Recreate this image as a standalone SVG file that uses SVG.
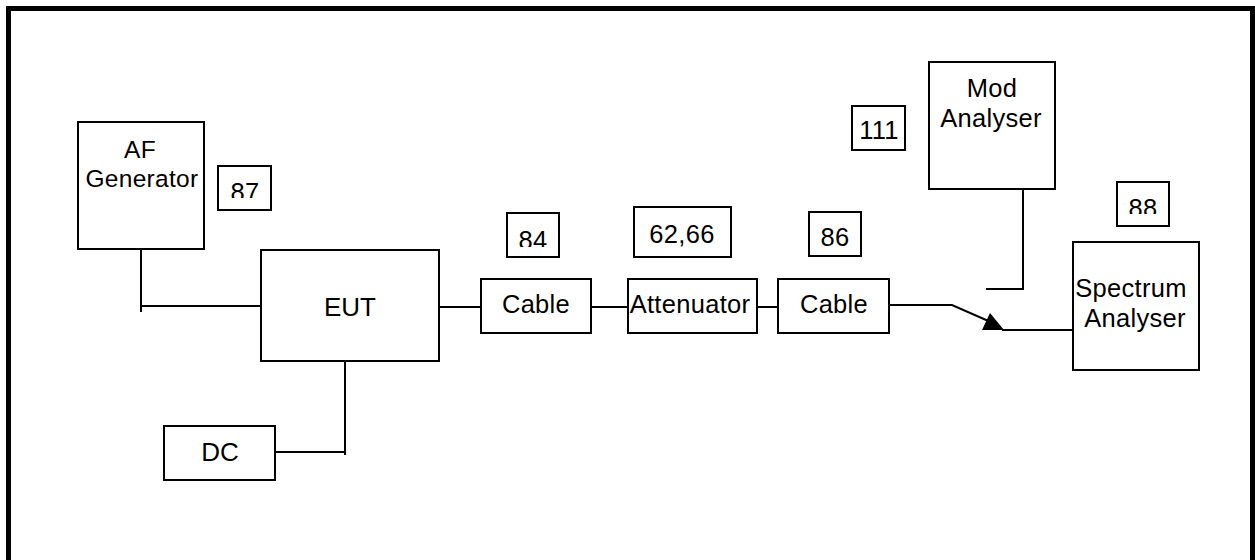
<svg xmlns="http://www.w3.org/2000/svg" width="1255" height="560" viewBox="0 0 1255 560">
<style>
.box{fill:#fff;stroke:#000;stroke-width:2}
.ln{fill:none;stroke:#000;stroke-width:2}
.t{font-family:"Liberation Sans",Arial,sans-serif;font-size:25.5px;letter-spacing:0.3px;fill:#000;text-anchor:middle}
</style>
<defs>
<clipPath id="c87"><rect x="218" y="166" width="53" height="32"/></clipPath>
<clipPath id="c84"><rect x="507" y="213" width="52" height="34"/></clipPath>
<clipPath id="c88"><rect x="1117" y="182" width="52" height="32"/></clipPath>
</defs>
<rect x="0" y="0" width="1255" height="560" fill="#fff"/>
<rect x="8.5" y="8.5" width="1244" height="620" fill="none" stroke="#000" stroke-width="5"/>
<g id="connectors">
<polyline class="ln" points="141,249 141,312"/>
<polyline class="ln" points="141,306 261,306"/>
<polyline class="ln" points="439,307 481,307"/>
<polyline class="ln" points="591,307 628,307"/>
<polyline class="ln" points="757,307 778,307"/>
<polyline class="ln" points="345,361 345,455"/>
<polyline class="ln" points="275,452 345,452"/>
<polyline class="ln" points="889,305 952,305 993,323"/>
<polygon points="990,313 982,330 1004,330" fill="#000"/>
<polyline class="ln" points="1002,330 1077,330"/>
<polyline class="ln" points="1023,189 1023,289 986,289"/>
</g>
<g id="af-generator"><rect class="box" x="78" y="122" width="126" height="127"/><text class="t" x="140" y="158" style="font-size:24.5px">AF</text><text class="t" x="142" y="187" style="font-size:24.5px">Generator</text></g>
<g id="label-87"><rect class="box" x="218" y="166" width="53" height="44"/><text class="t" x="245" y="201" clip-path="url(#c87)">87</text></g>
<g id="eut"><rect class="box" x="261" y="250" width="178" height="111"/><text class="t" x="350" y="316" style="font-size:26px;letter-spacing:0">EUT</text></g>
<g id="dc"><rect class="box" x="164" y="426" width="111" height="54"/><text class="t" x="220" y="461" style="font-size:26px;letter-spacing:0">DC</text></g>
<g id="cable1"><rect class="box" x="481" y="279" width="110" height="54"/><text class="t" x="536" y="313">Cable</text></g>
<g id="label-84"><rect class="box" x="507" y="213" width="52" height="44"/><text class="t" x="533" y="249" clip-path="url(#c84)">84</text></g>
<g id="attenuator"><rect class="box" x="628" y="279" width="129" height="54"/><text class="t" x="690" y="313">Attenuator</text></g>
<g id="label-6266"><rect class="box" x="634" y="207" width="97" height="50"/><text class="t" x="682" y="243">62,66</text></g>
<g id="cable2"><rect class="box" x="778" y="279" width="111" height="54"/><text class="t" x="834" y="313">Cable</text></g>
<g id="label-86"><rect class="box" x="809" y="212" width="52" height="44"/><text class="t" x="835" y="246">86</text></g>
<g id="label-111"><rect class="box" x="852" y="106" width="53" height="44"/><text class="t" x="879" y="139">111</text></g>
<g id="mod-analyser"><rect class="box" x="929" y="62" width="126" height="127"/><text class="t" x="992" y="97">Mod</text><text class="t" x="991" y="127">Analyser</text></g>
<g id="label-88"><rect class="box" x="1117" y="182" width="52" height="44"/><text class="t" x="1143" y="217" clip-path="url(#c88)">88</text></g>
<g id="spectrum-analyser"><rect class="box" x="1073" y="242" width="126" height="128"/><text class="t" x="1131" y="297">Spectrum</text><text class="t" x="1135" y="327">Analyser</text></g>
</svg>
